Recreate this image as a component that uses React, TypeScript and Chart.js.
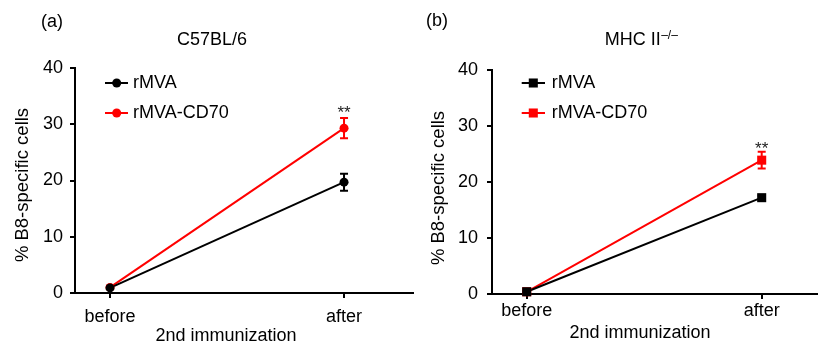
import React, { useEffect, useRef } from 'react';
import { Chart, registerables } from 'chart.js';

Chart.register(...registerables);

// ---------- data ----------
const categories = ['before', 'after'];
const seriesLabels = ['rMVA', 'rMVA-CD70'];
const yTickMin = 0;
const yTickMax = 40;
const yTickStep = 10;
const xAxisTitle = '2nd immunization';
const yAxisTitle = '% B8-specific cells';
const panelLabels = ['(a)', '(b)'];
const panelTitles = ['C57BL/6', 'MHC II'];
const panelTitleSups = ['', '\u2013/\u2013'];
const sigMark = '**';
const sigCategoryIndex = 1;

const c57_rMVA = [0.9, 19.7];
const c57_rMVA_sem = [0.2, 1.5];
const c57_CD70 = [1.0, 29.3];
const c57_CD70_sem = [0.2, 1.8];

const mhc_rMVA = [0.4, 17.2];
const mhc_rMVA_sem = [0.1, 0.4];
const mhc_CD70 = [0.4, 23.9];
const mhc_CD70_sem = [0.1, 1.5];

// ---------- style ----------
const FONT = "'Liberation Sans', Arial, Helvetica, sans-serif";
const RED = '#ff0000';
const BLACK = '#000000';
const FS = 18;

interface Geo {
  left: number; width: number; height: number;
  axisX: number; top: number; bottom: number;
  xMin: number; xMax: number;
  yTickPad: number; xTickPad: number;
  labelPos: [number, number];
  titlePos: [number, number];
  legendLine: [number, number]; legendMarkerX: number; legendTextX: number; legendRows: [number, number];
  yTitlePos: [number, number];
  xTitlePos: [number, number];
  starGap: number;
  markerStyle: 'circle' | 'rect';
  markerRadius: number;
}

const geoA: Geo = {
  left: 0, width: 414, height: 343,
  axisX: 75, top: 68, bottom: 293,
  xMin: -0.1496, xMax: 1.299,
  yTickPad: 7, xTickPad: 8,
  labelPos: [52, 27],
  titlePos: [212, 45],
  legendLine: [105, 128], legendMarkerX: 116.7, legendTextX: 133, legendRows: [83, 113],
  yTitlePos: [23, 185],
  xTitlePos: [226, 341],
  starGap: 10,
  markerStyle: 'circle',
  markerRadius: 4.5,
};

const geoB: Geo = {
  left: 414, width: 404, height: 343,
  axisX: 78, top: 70, bottom: 294,
  xMin: -0.1477, xMax: 1.2396,
  yTickPad: 9, xTickPad: 1,
  labelPos: [23, 26],
  titlePos: [227, 45],
  legendLine: [107.7, 131], legendMarkerX: 119.3, legendTextX: 137.7, legendRows: [83, 113],
  yTitlePos: [25, 188],
  xTitlePos: [226, 337.5],
  starGap: 7,
  markerStyle: 'rect',
  markerRadius: 6.4,
};

interface PanelProps {
  geo: Geo;
  label: string;
  title: string;
  titleSup: string;
  rMVA: number[];
  rMVAErr: number[];
  cd70: number[];
  cd70Err: number[];
}

function drawMarker(ctx: CanvasRenderingContext2D, style: 'circle' | 'rect', x: number, y: number, r: number, color: string) {
  ctx.fillStyle = color;
  ctx.beginPath();
  if (style === 'circle') {
    ctx.arc(x, y, r, 0, Math.PI * 2);
  } else {
    const s = Math.SQRT1_2 * r;
    ctx.rect(x - s, y - s, 2 * s, 2 * s);
  }
  ctx.fill();
}

function Panel(props: PanelProps) {
  const ref = useRef<HTMLCanvasElement | null>(null);
  useEffect(() => {
    const canvas = ref.current;
    if (!canvas) return;
    const g = props.geo;
    const seriesColors = [BLACK, RED];
    const seriesVals = [props.rMVA, props.cd70];
    const seriesErrs = [props.rMVAErr, props.cd70Err];

    const errorBars = {
      id: 'errorBars',
      afterDatasetsDraw(chart: any) {
        const ctx = chart.ctx as CanvasRenderingContext2D;
        const xs = chart.scales.x;
        const ys = chart.scales.y;
        ctx.save();
        for (let d = seriesVals.length - 1; d >= 0; d--) {
          ctx.strokeStyle = seriesColors[d];
          ctx.lineWidth = 2;
          seriesVals[d].forEach((v, i) => {
            const e = seriesErrs[d][i];
            const px = xs.getPixelForValue(i);
            const y1 = ys.getPixelForValue(v + e);
            const y2 = ys.getPixelForValue(v - e);
            ctx.beginPath();
            ctx.moveTo(px, y1); ctx.lineTo(px, y2);
            ctx.moveTo(px - 4, y1); ctx.lineTo(px + 4, y1);
            ctx.moveTo(px - 4, y2); ctx.lineTo(px + 4, y2);
            ctx.stroke();
          });
          seriesVals[d].forEach((v, i) => {
            drawMarker(ctx, g.markerStyle, xs.getPixelForValue(i), ys.getPixelForValue(v), g.markerRadius, seriesColors[d]);
          });
        }
        ctx.restore();
      },
    };

    const decorations = {
      id: 'decorations',
      afterDraw(chart: any) {
        const ctx = chart.ctx as CanvasRenderingContext2D;
        const xs = chart.scales.x;
        const ys = chart.scales.y;
        ctx.save();
        ctx.fillStyle = BLACK;
        // panel label
        ctx.font = `${FS}px ${FONT}`;
        ctx.textAlign = 'center';
        ctx.textBaseline = 'alphabetic';
        ctx.fillText(props.label, g.labelPos[0], g.labelPos[1]);
        // title
        ctx.font = `${FS}px ${FONT}`;
        const mainW = ctx.measureText(props.title).width;
        ctx.font = `12px ${FONT}`;
        const supW = props.titleSup ? ctx.measureText(props.titleSup).width : 0;
        const startX = g.titlePos[0] - (mainW + supW) / 2;
        ctx.textAlign = 'left';
        ctx.font = `${FS}px ${FONT}`;
        ctx.fillText(props.title, startX, g.titlePos[1]);
        if (props.titleSup) {
          ctx.font = `12px ${FONT}`;
          ctx.fillText(props.titleSup, startX + mainW + 0.5, g.titlePos[1] - 6.5);
        }
        // legend
        ctx.font = `${FS}px ${FONT}`;
        ctx.textBaseline = 'middle';
        ctx.textAlign = 'left';
        seriesLabels.forEach((lab, i) => {
          const y = g.legendRows[i];
          ctx.strokeStyle = seriesColors[i];
          ctx.lineWidth = 2;
          ctx.beginPath();
          ctx.moveTo(g.legendLine[0], y);
          ctx.lineTo(g.legendLine[1], y);
          ctx.stroke();
          drawMarker(ctx, g.markerStyle, g.legendMarkerX, y, g.markerRadius, seriesColors[i]);
          ctx.fillStyle = BLACK;
          ctx.fillText(lab, g.legendTextX, y + 0.5);
        });
        // significance
        const si = sigCategoryIndex;
        const topY = ys.getPixelForValue(props.cd70[si] + props.cd70Err[si]);
        ctx.font = `17px ${FONT}`;
        ctx.textAlign = 'center';
        ctx.textBaseline = 'alphabetic';
        ctx.fillStyle = '#222';
        ctx.fillText(sigMark, xs.getPixelForValue(si), topY - g.starGap + 9.7);
        // axis titles
        ctx.fillStyle = BLACK;
        ctx.font = `${FS}px ${FONT}`;
        ctx.textAlign = 'center';
        ctx.textBaseline = 'alphabetic';
        ctx.fillText(xAxisTitle, g.xTitlePos[0], g.xTitlePos[1]);
        ctx.save();
        ctx.translate(g.yTitlePos[0], g.yTitlePos[1]);
        ctx.rotate(-Math.PI / 2);
        ctx.textBaseline = 'middle';
        ctx.font = `18.5px ${FONT}`;
        ctx.fillText(yAxisTitle, 0, 0);
        ctx.restore();
        ctx.restore();
      },
    };

    const mkData = (vals: number[]) => vals.map((y, i) => ({ x: i, y }));

    const chart = new Chart(canvas, {
      type: 'line',
      data: {
        datasets: [
          {
            label: seriesLabels[0],
            data: mkData(props.rMVA),
            borderColor: BLACK,
            backgroundColor: BLACK,
            borderWidth: 2,
            pointRadius: 0,
            tension: 0,
          },
          {
            label: seriesLabels[1],
            data: mkData(props.cd70),
            borderColor: RED,
            backgroundColor: RED,
            borderWidth: 2,
            pointRadius: 0,
            tension: 0,
          },
        ],
      },
      options: {
        responsive: false,
        animation: false,
        devicePixelRatio: 1,
        layout: { padding: { top: g.top, left: 0, right: 0, bottom: 0 } },
        plugins: {
          legend: { display: false },
          tooltip: { enabled: false },
          title: { display: false },
        },
        scales: {
          x: {
            type: 'linear',
            min: g.xMin,
            max: g.xMax,
            afterBuildTicks: (scale: any) => {
              scale.ticks = categories.map((_, i) => ({ value: i }));
            },
            afterFit: (scale: any) => {
              scale.height = g.height - g.bottom;
              scale.paddingLeft = 0;
              scale.paddingRight = 0;
            },
            ticks: {
              callback: (v: any) => categories[Math.round(Number(v))] ?? '',
              color: BLACK,
              font: { family: FONT, size: FS },
              padding: g.xTickPad,
              maxRotation: 0,
              autoSkip: false,
            },
            grid: {
              display: true,
              drawOnChartArea: false,
              drawTicks: true,
              tickLength: 5,
              color: BLACK,
              lineWidth: 2,
            },
            border: { display: true, color: BLACK, width: 2 },
          },
          y: {
            type: 'linear',
            min: yTickMin,
            max: yTickMax,
            afterFit: (scale: any) => {
              scale.width = g.axisX;
            },
            ticks: {
              stepSize: yTickStep,
              color: BLACK,
              font: { family: FONT, size: FS },
              padding: g.yTickPad,
            },
            grid: {
              display: true,
              drawOnChartArea: false,
              drawTicks: true,
              tickLength: 5,
              color: BLACK,
              lineWidth: 2,
            },
            border: { display: true, color: BLACK, width: 2 },
          },
        },
      } as any,
      plugins: [errorBars, decorations],
    });
    return () => chart.destroy();
  }, [props]);

  const g = props.geo;
  return (
    <canvas
      ref={ref}
      width={g.width}
      height={g.height}
      style={{ position: 'absolute', left: g.left, top: 0, width: g.width, height: g.height }}
    />
  );
}

const panelA: PanelProps = {
  geo: geoA, label: panelLabels[0], title: panelTitles[0], titleSup: panelTitleSups[0],
  rMVA: c57_rMVA, rMVAErr: c57_rMVA_sem, cd70: c57_CD70, cd70Err: c57_CD70_sem,
};
const panelB: PanelProps = {
  geo: geoB, label: panelLabels[1], title: panelTitles[1], titleSup: panelTitleSups[1],
  rMVA: mhc_rMVA, rMVAErr: mhc_rMVA_sem, cd70: mhc_CD70, cd70Err: mhc_CD70_sem,
};

export default function App() {
  return (
    <div style={{ position: 'absolute', left: 0, top: 0, width: 818, height: 343, background: '#fff', overflow: 'hidden' }}>
      <Panel {...panelA} />
      <Panel {...panelB} />
    </div>
  );
}
